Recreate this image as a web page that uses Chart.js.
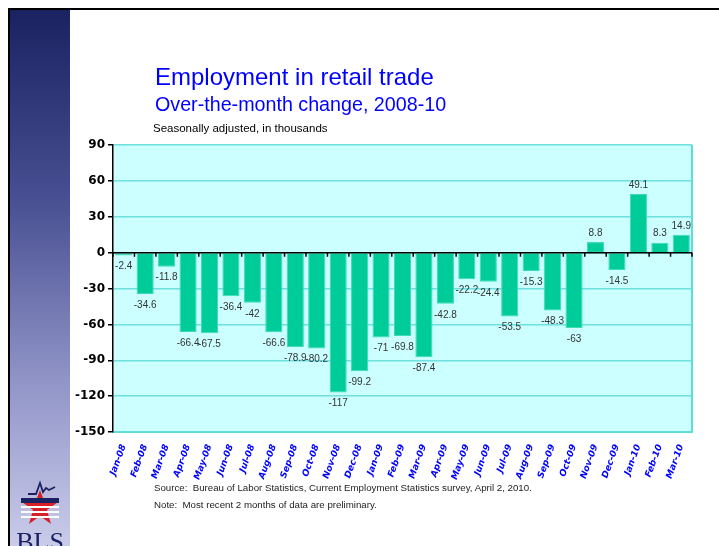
<!DOCTYPE html>
<html>
<head>
<meta charset="utf-8">
<script src="https://cdn.jsdelivr.net/npm/chart.js@4.4.1/dist/chart.umd.min.js"></script>
<style>
  html,body{margin:0;padding:0;background:#fff;}
  #wrap{position:relative;width:719px;height:546px;overflow:hidden;background:#fff;}
  #frame{position:absolute;left:8px;top:8px;width:720px;height:560px;border-left:2px solid #000;border-top:2px solid #000;}
  #side{position:absolute;left:10px;top:10px;width:60px;height:540px;background:linear-gradient(#1b2262 0%,#484f92 35%,#9397c9 70%,#cbcdea 100%);}
  #chart{position:absolute;left:0;top:0;}
  .t1{position:absolute;left:155px;top:63px;font:24px "Liberation Sans",Arial,sans-serif;color:#0000ff;white-space:nowrap;}
  .t2{position:absolute;left:155px;top:93px;font:19.7px "Liberation Sans",Arial,sans-serif;color:#0000ff;white-space:nowrap;}
  .t3{position:absolute;left:153px;top:122px;font:11.5px "Liberation Sans",Arial,sans-serif;color:#000;white-space:nowrap;}
  .fn{position:absolute;left:154px;font:9.7px "Liberation Sans",Arial,sans-serif;color:#222;white-space:nowrap;}
  #logo{position:absolute;left:16px;top:478px;}
</style>
</head>
<body>
<div id="wrap">
  <div id="side"></div>
  <div id="frame"></div>
  <canvas id="chart" width="719" height="546"></canvas>
  <div class="t1">Employment in retail trade</div>
  <div class="t2">Over-the-month change, 2008-10</div>
  <div class="t3">Seasonally adjusted, in thousands</div>
  <div class="fn" style="top:482px;">Source:&nbsp; Bureau of Labor Statistics, Current Employment Statistics survey, April 2, 2010.</div>
  <div class="fn" style="top:499px;">Note:&nbsp; Most recent 2 months of data are preliminary.</div>
  <svg id="logo" width="54" height="70" viewBox="0 0 54 70">
    <polyline points="12,16 20,16 24,5 27,14 30,10 33,12 39,9" fill="none" stroke="#1b2262" stroke-width="1.8"/>
    <polygon points="24,12 28.5,24 42,24 31,32 35,46 24,38 13,46 17,32 6,24 19.5,24" fill="#d82027"/>
    <rect x="5" y="20" width="38" height="5" fill="#1b2262"/>
    <rect x="5" y="28" width="38" height="2" fill="#fff"/>
    <rect x="5" y="33" width="38" height="2" fill="#fff"/>
    <rect x="5" y="38" width="38" height="2" fill="#fff"/>
    <text x="24" y="72" text-anchor="middle" font-family="Liberation Serif,serif" font-size="26" fill="#1b2262">BLS</text>
  </svg>
</div>
<script>
// categories and values (thousands, seasonally adjusted)
const months = ['Jan-08','Feb-08','Mar-08','Apr-08','May-08','Jun-08','Jul-08','Aug-08','Sep-08','Oct-08','Nov-08','Dec-08',
  'Jan-09','Feb-09','Mar-09','Apr-09','May-09','Jun-09','Jul-09','Aug-09','Sep-09','Oct-09','Nov-09','Dec-09',
  'Jan-10','Feb-10','Mar-10'];
const change = [-2.4,-34.6,-11.8,-66.4,-67.5,-36.4,-42,-66.6,-78.9,-80.2,-117,-99.2,
  -71,-69.8,-87.4,-42.8,-22.2,-24.4,-53.5,-15.3,-48.3,-63,8.8,-14.5,
  49.1,8.3,14.9];
const yTicks = [90,60,30,0,-30,-60,-90,-120,-150];

// value labels + zero line + right border
const extras = {
  id:'extras',
  afterDatasetsDraw(chart) {
    const ctx = chart.ctx, a = chart.chartArea;
    const y0 = chart.scales.y.getPixelForValue(0);
    ctx.save();
    ctx.strokeStyle = '#5fdcdc'; ctx.lineWidth = 2;
    ctx.beginPath(); ctx.moveTo(a.right, a.top); ctx.lineTo(a.right, a.bottom); ctx.stroke();
    ctx.strokeStyle = '#000'; ctx.lineWidth = 1.5;
    ctx.beginPath(); ctx.moveTo(a.left, y0); ctx.lineTo(a.right, y0);
    const w = (a.right - a.left) / months.length;
    for (let i = 0; i <= months.length; i++) {
      ctx.moveTo(a.left + i*w, y0); ctx.lineTo(a.left + i*w, y0 + 4);
    }
    ctx.stroke();
    ctx.font = '10px "Liberation Sans", Arial, sans-serif';
    ctx.fillStyle = '#333'; ctx.textAlign = 'center';
    chart.getDatasetMeta(0).data.forEach((bar, i) => {
      const v = change[i];
      if (v < 0) { ctx.textBaseline = 'top'; ctx.fillText(String(v), bar.x, bar.y + 6); }
      else { ctx.textBaseline = 'bottom'; ctx.fillText(String(v), bar.x, bar.y - 4); }
    });
    ctx.restore();
  }
};

const plotBg = {
  id:'plotBg',
  beforeDraw(chart) {
    const a = chart.chartArea, ctx = chart.ctx;
    ctx.save(); ctx.fillStyle = '#ccffff';
    ctx.fillRect(a.left, a.top, a.right - a.left, a.bottom - a.top);
    ctx.restore();
  }
};

new Chart(document.getElementById('chart'), {
  type:'bar',
  data:{ labels:months, datasets:[{ data:change, backgroundColor:'#00cc99', borderColor:'#3fdcb4', borderWidth:1,
    barPercentage:0.8, categoryPercentage:1 }] },
  options:{
    responsive:false, animation:false,
    layout:{ padding:{ left:60, top:145, right:27, bottom:60 } },
    plugins:{ legend:{ display:false }, tooltip:{ enabled:false } },
    scales:{
      x:{
        grid:{ display:false },
        border:{ color:'#5fdcdc', width:2 },
        ticks:{ color:'#0000ff', font:{ family:'"DejaVu Sans", Verdana, sans-serif', size:9, weight:'bold', style:'italic' },
          minRotation:70, maxRotation:70, autoSkip:false, padding:3 },
        afterFit(s){ s.height = 54; }
      },
      y:{
        min:-150, max:90,
        afterBuildTicks(s){ s.ticks = yTicks.map(v => ({ value:v })); },
        grid:{ color:'#6fe0e0', lineWidth:1.5, tickColor:'#000', tickLength:5 },
        border:{ color:'#000', width:1.5 },
        ticks:{ color:'#000', font:{ family:'"DejaVu Sans", Verdana, sans-serif', size:12, weight:'bold' }, padding:3 },
        afterFit(s){ s.width = 53; }
      }
    }
  },
  plugins:[plotBg, extras]
});
</script>
</body>
</html>
